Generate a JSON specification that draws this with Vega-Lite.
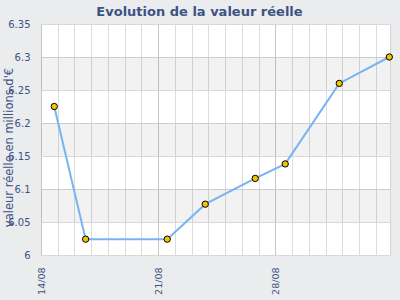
{
  "$schema": "https://vega.github.io/schema/vega-lite/v6.json",
  "width": 349,
  "height": 231,
  "autosize": {"type": "none"},
  "padding": {"left": 41, "top": 24, "right": 10, "bottom": 45},
  "background": "#ebecee",
  "title": {
    "text": "Evolution de la valeur réelle",
    "font": "DejaVu Sans",
    "fontSize": 13,
    "fontWeight": "bold",
    "color": "#3c5384",
    "anchor": "middle",
    "dx": -16,
    "offset": 0
  },
  "config": {
    "view": {"fill": "white", "stroke": "#d4d4d4", "strokeWidth": 1}
  },
  "datasets": {
    "bands": [
      {"valeur": 6.05, "hi": 6.1},
      {"valeur": 6.15, "hi": 6.2},
      {"valeur": 6.25, "hi": 6.3}
    ],
    "series": [
      {"date": "2023-08-14T19:00:00Z", "valeur": 6.225},
      {"date": "2023-08-16T16:00:00Z", "valeur": 6.024},
      {"date": "2023-08-21T13:00:00Z", "valeur": 6.024},
      {"date": "2023-08-23T19:30:00Z", "valeur": 6.077},
      {"date": "2023-08-26T19:10:00Z", "valeur": 6.116},
      {"date": "2023-08-28T14:10:00Z", "valeur": 6.138},
      {"date": "2023-08-31T19:40:00Z", "valeur": 6.26},
      {"date": "2023-09-03T19:25:00Z", "valeur": 6.3}
    ]
  },
  "encoding": {
    "y": {
      "field": "valeur",
      "type": "quantitative",
      "scale": {"domain": [6, 6.35], "nice": false, "zero": false},
      "axis": {
        "values": [6, 6.05, 6.1, 6.15, 6.2, 6.25, 6.3, 6.35],
        "format": ".2~f",
        "grid": true,
        "gridColor": "#d8d8d8",
        "ticks": false,
        "domain": false,
        "labelOverlap": false,
        "labelFont": "DejaVu Sans",
        "labelFontSize": 10,
        "labelColor": "#3c5384",
        "labelPadding": 11,
        "title": "valeur réelle en millions d'€",
        "titleFont": "DejaVu Sans",
        "titleFontSize": 11.5,
        "titleFontWeight": "normal",
        "titleColor": "#3c5384",
        "titleAngle": -90,
        "titleAlign": "center",
        "titleBaseline": "middle",
        "titleX": -32,
        "titleY": 123
      }
    }
  },
  "layer": [
    {
      "data": {"name": "bands"},
      "mark": {"type": "rect", "fill": "#000000", "opacity": 0.05},
      "encoding": {
        "y2": {"field": "hi"}
      }
    },
    {
      "data": {"name": "series"},
      "mark": {"type": "line", "color": "#78b4f2", "strokeWidth": 2},
      "encoding": {
        "x": {
          "field": "date",
          "type": "temporal",
          "scale": {
            "type": "utc",
            "domain": [
              {"year": 2023, "month": 8, "date": 14, "utc": true},
              {"year": 2023, "month": 9, "date": 3, "hours": 20, "minutes": 24, "utc": true}
            ]
          },
          "axis": {
            "title": null,
            "tickCount": {"interval": "day", "step": 1},
            "grid": true,
            "gridColor": {"condition": {"test": "utcday(datum.value) == 1", "value": "#c8c8c8"}, "value": "#dcdcdc"},
            "gridWidth": 1,
            "labelExpr": "utcday(datum.value) == 1 ? utcFormat(datum.value, '%d/%m') : ''",
            "labelAngle": -90,
            "labelOverlap": false,
            "labelFont": "DejaVu Sans",
            "labelFontSize": 9.5,
            "labelColor": "#3c5384",
            "labelPadding": 12,
            "ticks": false,
            "domain": false
          }
        }
      }
    },
    {
      "data": {"name": "series"},
      "mark": {"type": "point", "shape": "circle", "filled": true, "fill": "#f5c400", "stroke": "#000000", "strokeWidth": 1, "size": 40, "opacity": 1},
      "encoding": {
        "x": {"field": "date", "type": "temporal"}
      }
    }
  ]
}
